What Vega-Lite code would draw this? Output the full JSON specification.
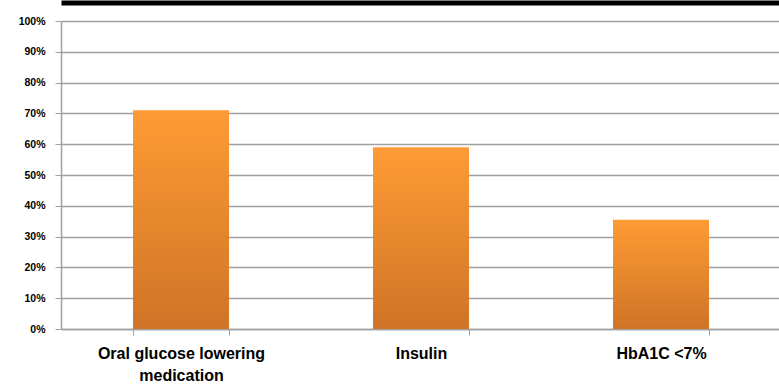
{
  "$schema": "https://vega.github.io/schema/vega-lite/v6.json",
  "autosize": "none",
  "width": 720,
  "height": 308,
  "padding": {"left": 61, "top": 21, "right": 0, "bottom": 58},
  "background": "white",
  "config": {"view": {"stroke": null}},
  "data": {
    "values": [
      {"category": "Oral glucose lowering medication", "value": 0.71},
      {"category": "Insulin", "value": 0.59},
      {"category": "HbA1C  <7%", "value": 0.355}
    ]
  },
  "encoding": {
    "y": {
      "field": "value",
      "type": "quantitative",
      "scale": {"domain": [0, 1]},
      "axis": {
        "title": null,
        "format": ".0%",
        "values": [0, 0.1, 0.2, 0.3, 0.4, 0.5, 0.6, 0.7, 0.8, 0.9, 1],
        "labelFont": "Liberation Sans",
        "labelFontWeight": "bold",
        "labelFontSize": 10.5,
        "labelColor": "#000000",
        "labelPadding": 10,
        "tickSize": 6,
        "tickColor": "#A0A0A0",
        "domainColor": "#A0A0A0",
        "domainWidth": 1.5,
        "gridColor": "#A0A0A0",
        "gridWidth": 1.5,
        "gridOpacity": 1
      }
    }
  },
  "layer": [
    {
      "mark": {
        "type": "bar",
        "color": {
          "gradient": "linear",
          "x1": 0, "y1": 0, "x2": 0, "y2": 1,
          "stops": [
            {"offset": 0, "color": "#FF9B35"},
            {"offset": 1, "color": "#CF7426"}
          ]
        }
      },
      "encoding": {
        "x": {
          "field": "category",
          "type": "nominal",
          "sort": null,
          "scale": {"paddingInner": 0.6, "paddingOuter": 0.3},
          "axis": {
            "title": null,
            "labelAngle": 0,
            "labelFont": "Liberation Sans",
            "labelFontWeight": "bold",
            "labelFontSize": 16,
            "labelColor": "#000000",
            "labelLineHeight": 22,
            "labelPadding": 10,
            "labelExpr": "datum.label == 'Oral glucose lowering medication' ? ['Oral glucose lowering', 'medication'] : datum.label",
            "tickBand": "extent",
            "tickSize": 6,
            "tickColor": "#A0A0A0",
            "domainColor": "#A0A0A0",
            "domainWidth": 1.5
          }
        }
      }
    },
    {
      "mark": {"type": "bar", "opacity": 0},
      "encoding": {
        "x": {
          "field": "category",
          "type": "nominal",
          "sort": null,
          "scale": {"paddingInner": 0.6, "paddingOuter": 0.3},
          "axis": {
            "orient": "top",
            "title": null,
            "labels": false,
            "ticks": false,
            "domainColor": "#000000",
            "domainWidth": 5,
            "offset": 18.5
          }
        }
      }
    }
  ],
  "resolve": {"axis": {"x": "independent"}}
}
